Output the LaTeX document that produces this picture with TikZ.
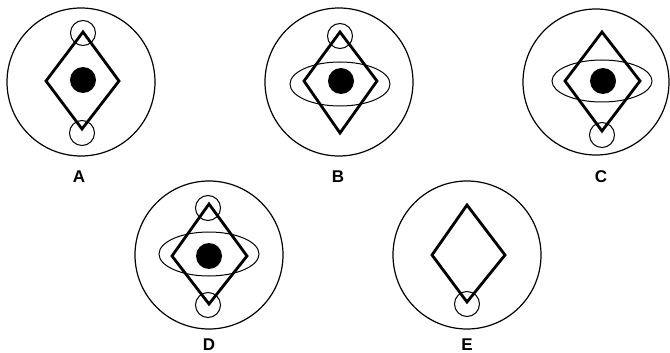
\documentclass[tikz,border=0pt]{standalone}
\usepackage{fontspec}
\setmainfont{Liberation Sans}
\tikzset{
  outerc/.style={line width=1.2pt},
  thin/.style={line width=1pt},
  dia/.style={line width=2.8pt, line join=miter},
  lab/.style={font=\fontsize{17}{17}\selectfont\bfseries, inner sep=0pt},
}
\begin{document}
\begin{tikzpicture}[x=1pt,y=-1pt]
\useasboundingbox (0,0) rectangle (670,353);
% ---------- A ----------
\draw[outerc] (81,82) circle (74);
\draw[thin] (83,33) circle (12.5);
\draw[thin] (82,133) circle (12.5);
\draw[dia] (83,32) -- (119,81) -- (82,129) -- (46,81) -- cycle;
\fill (83,80) circle (13);
\node[lab] (la) at (79,177) {A};
% ---------- B ----------
\draw[outerc] (339,82) circle (74);
\draw[thin] (340,84) ellipse (50 and 22);
\draw[thin] (340,36) circle (12.5);
\draw[dia] (340,32) -- (377,81) -- (340,133) -- (304,81) -- cycle;
\fill (341,81) circle (13);
\node[lab] (lb) at (338,177) {B};
% ---------- C ----------
\draw[outerc] (596,82) circle (73);
\draw[thin] (602,81) ellipse (50 and 21);
\draw[thin] (602,135) circle (12.5);
\draw[dia] (602,32) -- (640,81) -- (602,131) -- (565,81) -- cycle;
\fill (603,81) circle (13);
\node[lab] (lc) at (601,177) {C};
% ---------- D ----------
\draw[outerc] (209,255) circle (74);
\draw[thin] (209,254) ellipse (50 and 22);
\draw[thin] (208,208) circle (12.5);
\draw[thin] (208,305) circle (12.5);
\draw[dia] (209,204) -- (247,256) -- (209,304) -- (172,256) -- cycle;
\fill (209,256) circle (13);
\node[lab] (ld) at (209,345) {D};
% ---------- E ----------
\draw[outerc] (467,255) circle (74);
\draw[thin] (467,304) circle (12.5);
\draw[dia] (467,205) -- (505,255) -- (467,302) -- (432,255) -- cycle;
\node[lab] (le) at (467,345) {E};
\end{tikzpicture}
\end{document}
